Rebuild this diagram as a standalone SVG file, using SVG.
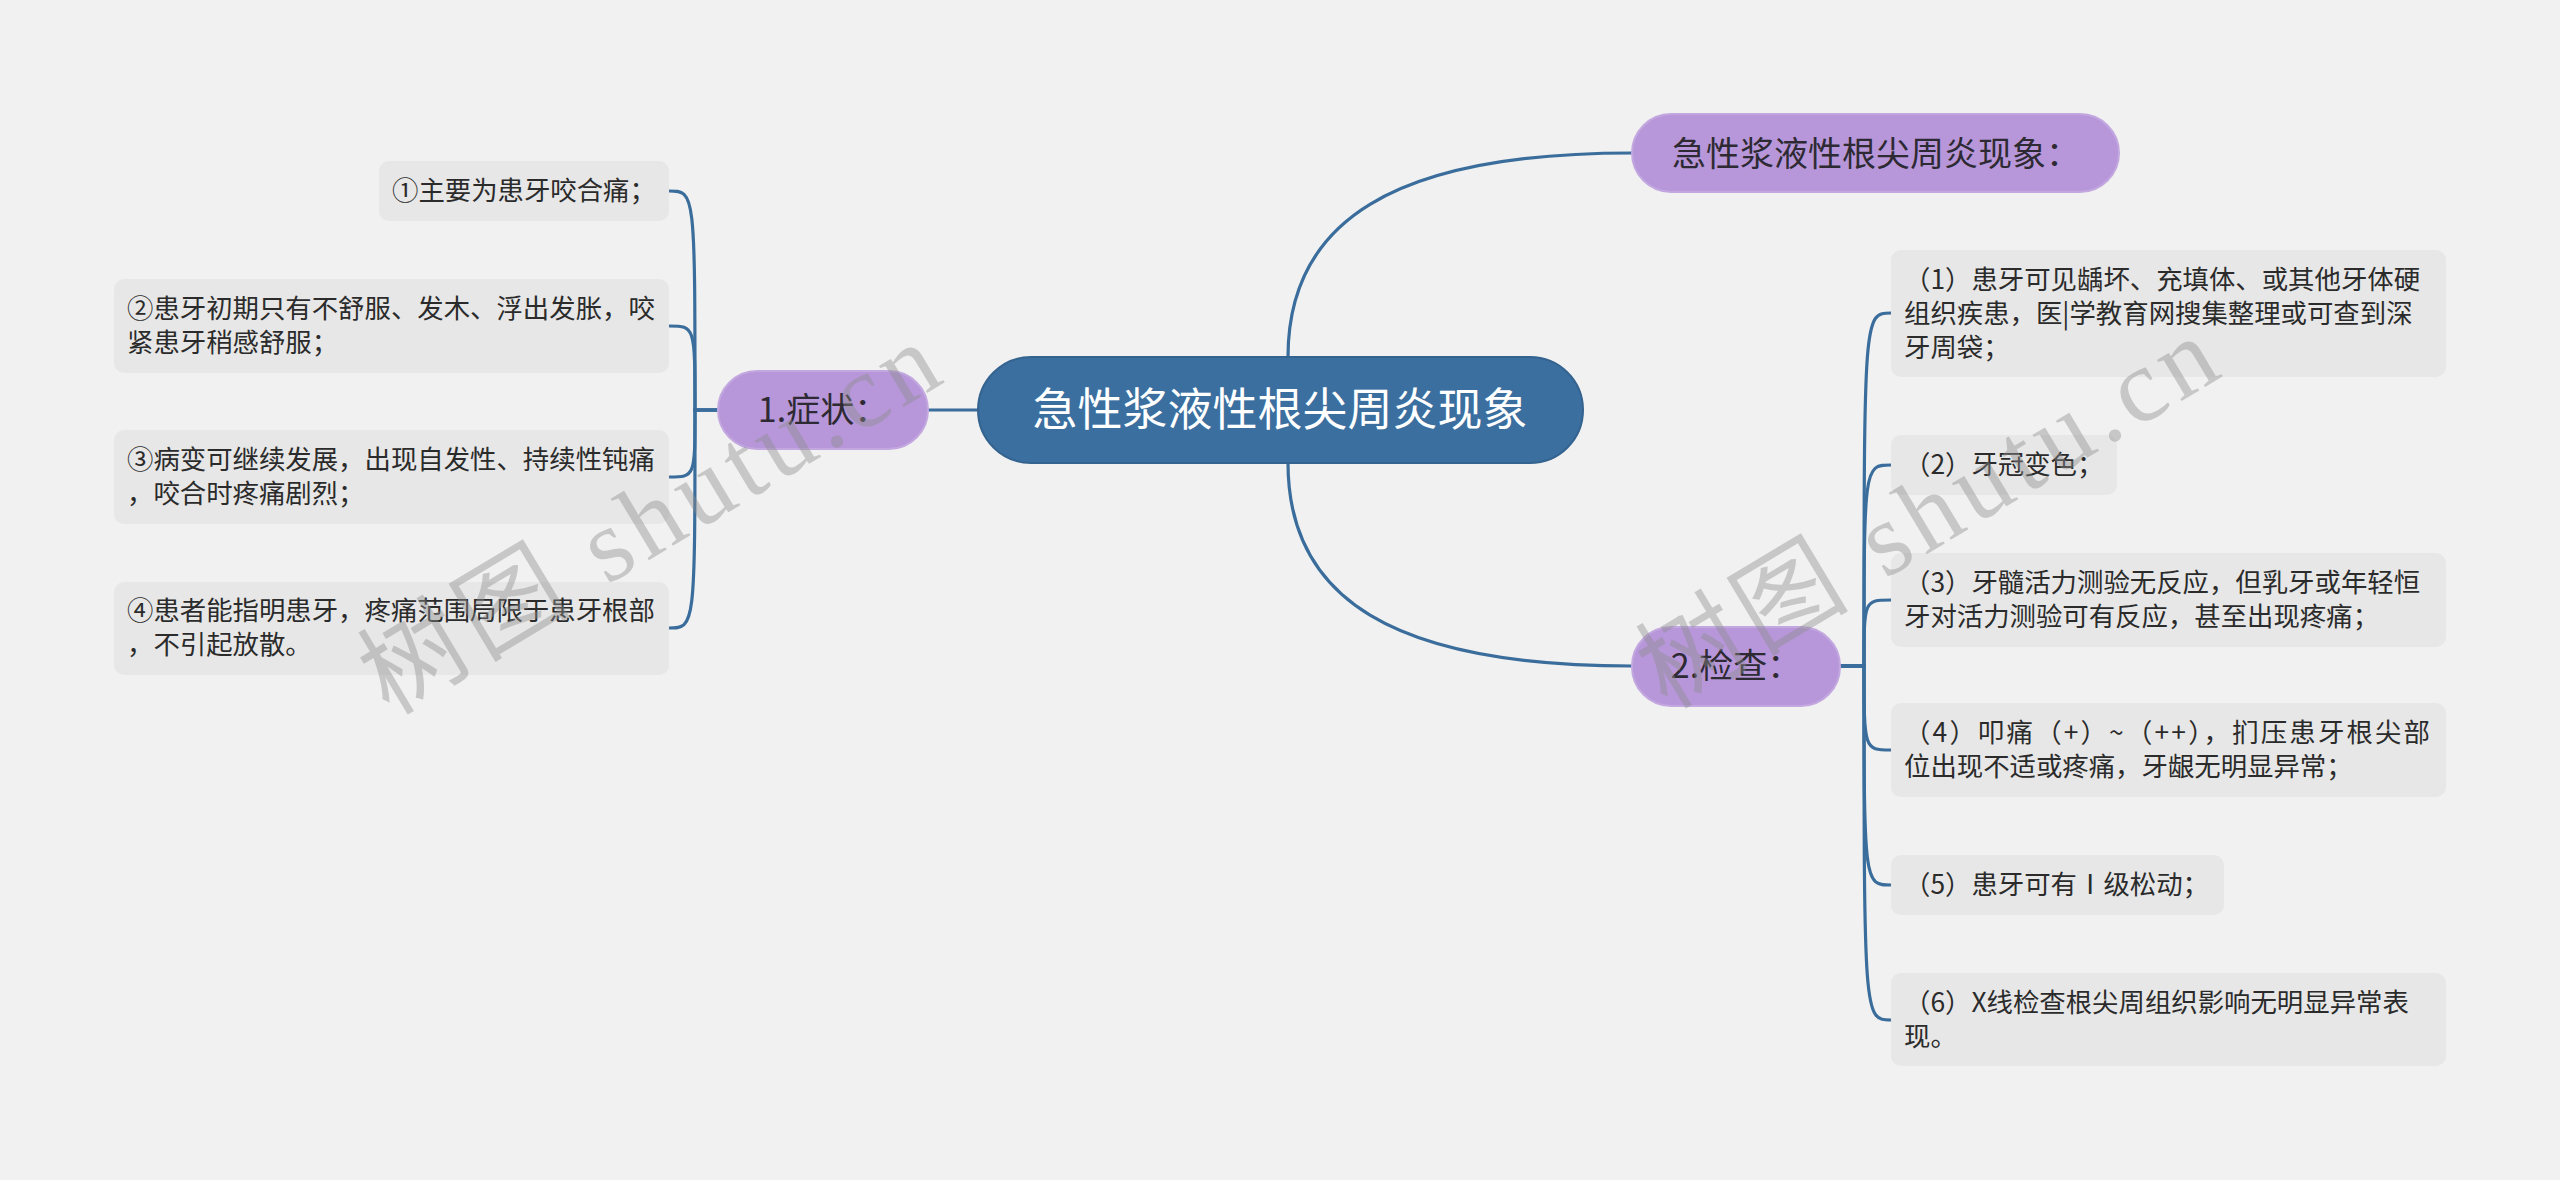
<svg xmlns="http://www.w3.org/2000/svg" width="2560" height="1180" viewBox="0 0 2560 1180">
<style>
.bg{fill:#f1f1f1}
.leaf{fill:#e7e7e7}
.mid{fill:#b797d9;stroke:#c3a8e0;stroke-width:2}
.root{fill:#3b6f9f;stroke:#34638f;stroke-width:2}
.lt{font-family:"Noto Sans CJK SC","Noto Sans",sans-serif;font-size:26.4px;fill:#2b2b2b}
.mt{font-family:"Noto Sans CJK SC","Noto Sans",sans-serif;font-size:34px;fill:#2e2a33;text-anchor:middle}
.rt{font-family:"Noto Sans CJK SC","Noto Sans",sans-serif;font-size:45px;fill:#ffffff;text-anchor:middle}
.con path{fill:none;stroke:#3a6d9b;stroke-width:3.2;stroke-linecap:round}
.wm{font-family:"Liberation Serif","Noto Sans CJK SC",serif;font-size:104px;fill:#8c8c8c;fill-opacity:0.42;text-anchor:middle}
</style>
<rect class="bg" x="0" y="0" width="2560" height="1180"/>

<g id="connectors" class="con">
<path d="M978,410 H928"/>
<path d="M1288,357 C1288,222 1392,153 1632,153"/>
<path d="M1288,463 C1288,598 1392,666 1632,666"/>
<path d="M718,410 H695 C695,191 695,191 669,191"/>
<path d="M718,410 H695 C695,326 695,326 669,326"/>
<path d="M718,410 H695 C695,477 695,477 669,477"/>
<path d="M718,410 H695 C695,628 695,628 669,628"/>
<path d="M1840,666 H1864 C1864,313 1864,313 1891,313"/>
<path d="M1840,666 H1864 C1864,465 1864,465 1891,465"/>
<path d="M1840,666 H1864 C1864,600 1864,600 1891,600"/>
<path d="M1840,666 H1864 C1864,750 1864,750 1891,750"/>
<path d="M1840,666 H1864 C1864,885 1864,885 1891,885"/>
<path d="M1840,666 H1864 C1864,1020 1864,1020 1891,1020"/>
</g>

<g id="root">
<rect class="root" x="978" y="357" width="605" height="106" rx="53"/>
<text class="rt" x="1280" y="426">急性浆液性根尖周炎现象</text>
</g>

<g id="n-title">
<rect class="mid" x="1632" y="114" width="487" height="78" rx="39"/>
<text class="mt" x="1876" y="166">急性浆液性根尖周炎现象：</text>
</g>

<g id="n-symptom">
<rect class="mid" x="718" y="371" width="210" height="78" rx="39"/>
<text class="mt" x="823" y="422">1.症状：</text>
</g>

<g id="n-exam">
<rect class="mid" x="1632" y="627" width="208" height="79" rx="39"/>
<text class="mt" x="1736" y="678">2.检查：</text>
</g>

<g id="s1">
<rect class="leaf" x="379" y="161" width="290" height="60" rx="10"/>
<text class="lt" x="392" y="200">①主要为患牙咬合痛；</text>
</g>
<g id="s2">
<rect class="leaf" x="114" y="279" width="555" height="94" rx="10"/>
<text class="lt" x="127" y="318">②患牙初期只有不舒服、发木、浮出发胀，咬</text>
<text class="lt" x="127" y="352">紧患牙稍感舒服；</text>
</g>
<g id="s3">
<rect class="leaf" x="114" y="430" width="555" height="94" rx="10"/>
<text class="lt" x="127" y="469">③病变可继续发展，出现自发性、持续性钝痛</text>
<text class="lt" x="127" y="503">，咬合时疼痛剧烈；</text>
</g>
<g id="s4">
<rect class="leaf" x="114" y="582" width="555" height="93" rx="10"/>
<text class="lt" x="127" y="620">④患者能指明患牙，疼痛范围局限于患牙根部</text>
<text class="lt" x="127" y="654">，不引起放散。</text>
</g>

<g id="e1">
<rect class="leaf" x="1891" y="250" width="555" height="127" rx="10"/>
<text class="lt" x="1904" y="289">（1）患牙可见龋坏、充填体、或其他牙体硬</text>
<text class="lt" x="1904" y="323">组织疾患，医|学教育网搜集整理或可查到深</text>
<text class="lt" x="1904" y="357">牙周袋；</text>
</g>
<g id="e2">
<rect class="leaf" x="1891" y="435" width="226" height="60" rx="10"/>
<text class="lt" x="1904" y="474">（2）牙冠变色；</text>
</g>
<g id="e3">
<rect class="leaf" x="1891" y="553" width="555" height="94" rx="10"/>
<text class="lt" x="1904" y="592">（3）牙髓活力测验无反应，但乳牙或年轻恒</text>
<text class="lt" x="1904" y="626">牙对活力测验可有反应，甚至出现疼痛；</text>
</g>
<g id="e4">
<rect class="leaf" x="1891" y="703" width="555" height="94" rx="10"/>
<text class="lt" x="1904" y="742" textLength="526" lengthAdjust="spacing">（4）叩痛（+）~（++），扪压患牙根尖部</text>
<text class="lt" x="1904" y="776">位出现不适或疼痛，牙龈无明显异常；</text>
</g>
<g id="e5">
<rect class="leaf" x="1891" y="855" width="333" height="60" rx="10"/>
<text class="lt" x="1904" y="894">（5）患牙可有Ⅰ级松动；</text>
</g>
<g id="e6">
<rect class="leaf" x="1891" y="973" width="555" height="93" rx="10"/>
<text class="lt" x="1904" y="1012">（6）X线检查根尖周组织影响无明显异常表</text>
<text class="lt" x="1904" y="1046">现。</text>
</g>

<text class="wm" transform="translate(649,518) rotate(-31)" x="0" y="36" textLength="650" lengthAdjust="spacing">树图 shutu.cn</text>
<text class="wm" transform="translate(1927,512) rotate(-31)" x="0" y="36" textLength="650" lengthAdjust="spacing">树图 shutu.cn</text>
</svg>
